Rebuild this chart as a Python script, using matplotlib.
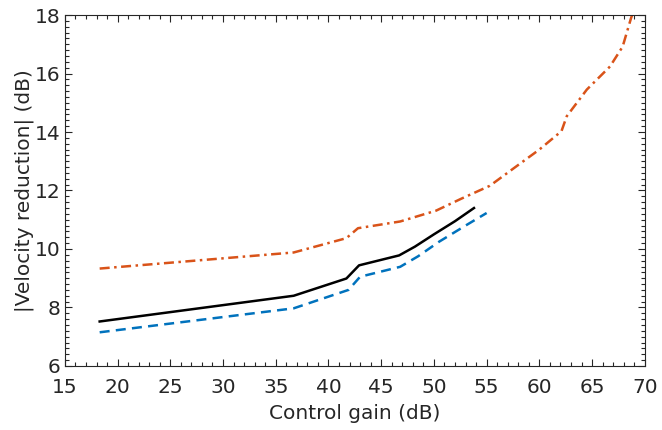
import matplotlib.pyplot as plt
from matplotlib.ticker import MultipleLocator

# control gain (dB) vs |velocity reduction| (dB)
gain_black = [18.3, 36.7, 41.7, 42.9, 46.7, 48.2, 50.0, 52.0, 53.8]
red_black = [7.52, 8.40, 8.99, 9.44, 9.78, 10.08, 10.50, 10.95, 11.40]

gain_blue = [18.3, 36.7, 41.9, 43.0, 46.8, 48.5, 50.5, 53.0, 55.0]
red_blue = [7.15, 7.97, 8.60, 9.05, 9.39, 9.75, 10.25, 10.80, 11.23]

gain_orange = [18.3, 36.7, 41.7, 42.8, 46.8, 50.2, 52.6, 55.3, 58.1, 60.0,
               62.1, 62.6, 64.5, 66.7, 67.9, 68.7, 69.0]
red_orange = [9.33, 9.88, 10.37, 10.71, 10.94, 11.31, 11.72, 12.16, 12.90, 13.40,
              14.03, 14.54, 15.45, 16.24, 16.92, 17.90, 18.2]

plt.rcParams['font.family'] = ['DejaVu Sans']
fig = plt.figure(figsize=(6.62, 4.3), dpi=100)
ax = fig.add_axes([0.098, 0.149, 0.876, 0.816])

ax.plot(gain_black, red_black, color='black', lw=1.8, ls='-')
ax.plot(gain_blue, red_blue, color='#0072BD', lw=1.8, ls=(0, (4, 2.5)))
ax.plot(gain_orange, red_orange, color='#D95319', lw=1.8, ls=(0, (4, 1.8, 1, 1.8)))

ax.set_xlim(15, 70)
ax.set_ylim(6, 18)
ax.xaxis.set_major_locator(MultipleLocator(5))
ax.xaxis.set_minor_locator(MultipleLocator(1))
ax.yaxis.set_major_locator(MultipleLocator(2))
ax.yaxis.set_minor_locator(MultipleLocator(0.2))
ax.tick_params(which='both', direction='in', top=True, right=True,
               colors='#262626', labelsize=14.5, width=0.8)
ax.tick_params(which='major', length=5)
ax.tick_params(which='minor', length=3)
ax.tick_params(axis='x', which='major', pad=9)
ax.tick_params(axis='y', which='major', pad=3)
for s in ax.spines.values():
    s.set_color('#262626')
    s.set_linewidth(0.8)

ax.set_xlabel('Control gain (dB)', fontsize=14.5, color='#262626', labelpad=5)
ax.set_ylabel('|Velocity reduction| (dB)', fontsize=14.5, color='#262626', labelpad=1)

fig.savefig('out.png')
